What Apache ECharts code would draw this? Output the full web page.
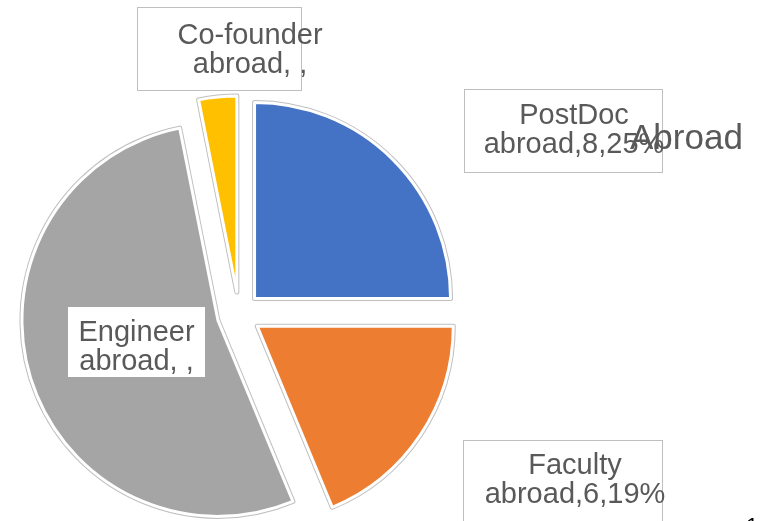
<!DOCTYPE html>
<html>
<head>
<meta charset="utf-8">
<title>Abroad</title>
<script src="https://cdn.jsdelivr.net/npm/echarts@6/dist/echarts.min.js"></script>
<style>
  html, body { margin: 0; padding: 0; background: #fff; }
  #chart { width: 761px; height: 521px; }
</style>
</head>
<body>
<div id="chart"></div>
<script>
// data
const categories = ['PostDoc abroad', 'Faculty abroad', 'Engineer abroad', 'Co-founder abroad'];
const values = [8, 6, 17, 1];
const showValue = [true, true, false, false]; // Engineer / Co-founder labels came out empty
const colors = ['#4472C4', '#ED7D31', '#A5A5A5', '#FFC000'];
const chartTitle = 'Abroad';

const font = '"Liberation Sans", Arial, sans-serif';
const textGray = '#595959';

// label boxes: [left, top, contentWidth, padding [t, r, b, l]]
const labelBoxes = [
  [465, 90, 160, [11, 8, 13, 29]],
  [464, 441, 160, [10, 7, 20, 31]],
  [68, 307, 121, [11, 8, 1, 8]],
  [138, 8, 100, [13, 1, 11, 62]]
];

function pieData(selected, withLabel) {
  return categories.map((c, i) => {
    const item = { name: c, value: values[i], selected: selected };
    item.itemStyle = { color: withLabel ? 'transparent' : colors[i] };
    if (withLabel) {
      item.label = {
        width: labelBoxes[i][2],
        padding: labelBoxes[i][3],
        borderWidth: i === 2 ? 0 : 1
      };
    }
    return item;
  });
}

const common = {
  type: 'pie',
  center: [239, 314],
  radius: 196,
  startAngle: 90,
  clockwise: true,
  percentPrecision: 0,
  selectedMode: 'multiple',
  selectedOffset: 22,
  avoidLabelOverlap: false,
  emphasis: { disabled: true },
  labelLine: { show: false }
};

const chart = echarts.init(document.getElementById('chart'));
chart.setOption({
  animation: false,
  title: {
    text: chartTitle,
    left: 630,
    top: 122,
    padding: 0,
    textStyle: { fontFamily: font, fontSize: 35, fontWeight: 'normal', color: textGray }
  },
  graphic: [{
    type: 'text',
    left: 746,
    top: 516,
    style: { text: '1', fontFamily: font, fontSize: 22, fill: '#000' }
  }],
  series: [
    // exploded slices: grey outline under a white rim
    Object.assign({}, common, {
      z: 1,
      itemStyle: { borderColor: '#bfbfbf', borderWidth: 5 },
      label: { show: false },
      data: pieData(true, false)
    }),
    Object.assign({}, common, {
      z: 2,
      itemStyle: { borderColor: '#ffffff', borderWidth: 3 },
      label: { show: false },
      data: pieData(true, false)
    }),
    // data labels (unselected copy so labelLayout positions stick)
    Object.assign({}, common, {
      z: 3,
      silent: true,
      itemStyle: { borderWidth: 0 },
      label: {
        show: true,
        position: 'outside',
        fontFamily: font,
        fontSize: 29,
        lineHeight: 29,
        color: textGray,
        align: 'center',
        overflow: 'none',
        backgroundColor: '#ffffff',
        borderColor: '#bfbfbf',
        borderWidth: 1,
        formatter: p => {
          const i = p.dataIndex;
          const tail = showValue[i] ? ',' + p.value + ',' + p.percent + '%' : ', ,';
          return p.name.replace(' ', '\n') + tail;
        }
      },
      labelLayout: p => {
        const b = labelBoxes[p.dataIndex];
        const outerW = b[2] + b[3][1] + b[3][3];
        return { x: b[0] + outerW / 2, y: b[1], align: 'center', verticalAlign: 'top' };
      },
      data: pieData(false, true)
    })
  ]
});
</script>
</body>
</html>
